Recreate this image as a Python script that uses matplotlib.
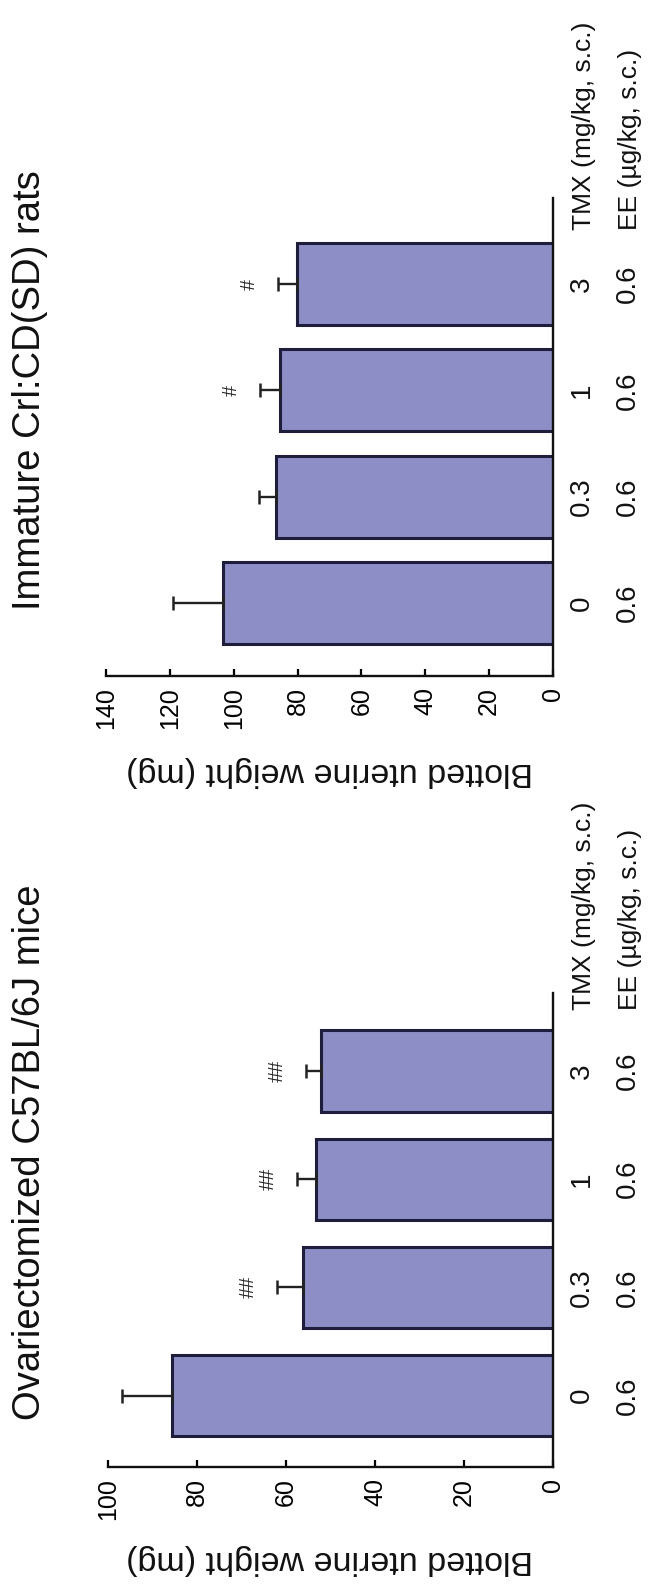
import matplotlib
matplotlib.use("Agg")
import matplotlib.pyplot as plt
import matplotlib.transforms as mtransforms

plt.rcParams['font.family'] = ['Liberation Sans', 'DejaVu Sans']

# doses (same for both panels)
tmx_doses = ['0', '0.3', '1', '3']
ee_doses = ['0.6', '0.6', '0.6', '0.6']

# ovariectomized mice
mice_mean = [85.6, 56.1, 53.3, 52.2]
mice_err = [11.3, 5.9, 4.3, 3.3]
mice_marks = ['', '##', '##', '##']
mice_ticks = [0, 20, 40, 60, 80, 100]

# immature rats
rats_mean = [103.2, 86.6, 85.4, 80.3]
rats_err = [15.7, 5.4, 6.4, 5.8]
rats_marks = ['', '', '#', '#']
rats_ticks = [0, 20, 40, 60, 80, 100, 120, 140]

bar_color = '#8e8ec6'
edge_color = '#1e1e3c'

W, H = 652, 1584
fig = plt.figure(figsize=(W / 100, H / 100), dpi=100)


def panel(rect, means, errs, marks, ticks, ylim, barh_size, title, title_y, label_y, tmx_y):
    ax = fig.add_axes(rect)
    pos = list(range(len(means)))
    ax.barh(pos, means, height=barh_size, color=bar_color, edgecolor=edge_color,
            linewidth=2.2, zorder=2)
    ax.errorbar(means, pos, xerr=[[0] * len(errs), errs], fmt='none',
                ecolor='#222222', elinewidth=1.7, capsize=5, capthick=1.8, zorder=3)
    for m, e, p, mk in zip(means, errs, pos, marks):
        if mk:
            ax.annotate(mk, xy=(m + e, p), xytext=(-20, 0), textcoords='offset points',
                        rotation=90, ha='center', va='center', fontsize=16,
                        family='Liberation Serif', color='#222222')
    ax.set_xlim(ticks[-1], 0)
    ax.set_ylim(*ylim)
    ax.set_xticks(ticks)
    ax.set_xticklabels([str(t) for t in ticks])
    ax.tick_params(axis='x', direction='in', length=5, width=1.6, labelsize=18,
                   labelrotation=90, pad=8)
    ax.set_yticks([])
    for s in ['left', 'top']:
        ax.spines[s].set_visible(False)
    for s in ['bottom', 'right']:
        ax.spines[s].set_linewidth(1.7)
        ax.spines[s].set_color('#111111')

    trans = mtransforms.blended_transform_factory(fig.transFigure, ax.transData)
    for p, t, e in zip(pos, tmx_doses, ee_doses):
        ax.text(582 / W, p, t, transform=trans, rotation=90, ha='center', va='center',
                fontsize=20, color='#111111')
        ax.text(628 / W, p, e, transform=trans, rotation=90, ha='center', va='center',
                fontsize=20, color='#111111')
    fig.text(584 / W, tmx_y, 'TMX (mg/kg, s.c.)', rotation=90, ha='center', va='bottom',
             fontsize=19, color='#111111')
    fig.text(630 / W, tmx_y, 'EE (\u00b5g/kg, s.c.)', rotation=90, ha='center', va='bottom',
             fontsize=19, color='#111111')
    fig.text(30 / W, title_y, title, rotation=90, ha='center', va='bottom',
             fontsize=27.5, color='#111111')
    fig.text(330 / W, label_y, 'Blotted uterine weight (mg)', rotation=180,
             ha='center', va='center', fontsize=24.5, color='#111111')
    return ax


panel([108 / W, 1 - 1467 / H, 445 / W, 474 / H], mice_mean, mice_err, mice_marks,
      mice_ticks, (-0.66, 3.72), 0.75, 'Ovariectomized C57BL/6J mice',
      1 - 1420 / H, 1 - 1560 / H, 1 - 1010 / H)
panel([106 / W, 1 - 676 / H, 447 / W, 478 / H], rats_mean, rats_err, rats_marks,
      rats_ticks, (-0.687, 3.81), 0.77, 'Immature Crl:CD(SD) rats',
      1 - 610 / H, 1 - 772 / H, 1 - 230 / H)

fig.savefig('out.png', dpi=100, facecolor='white')
